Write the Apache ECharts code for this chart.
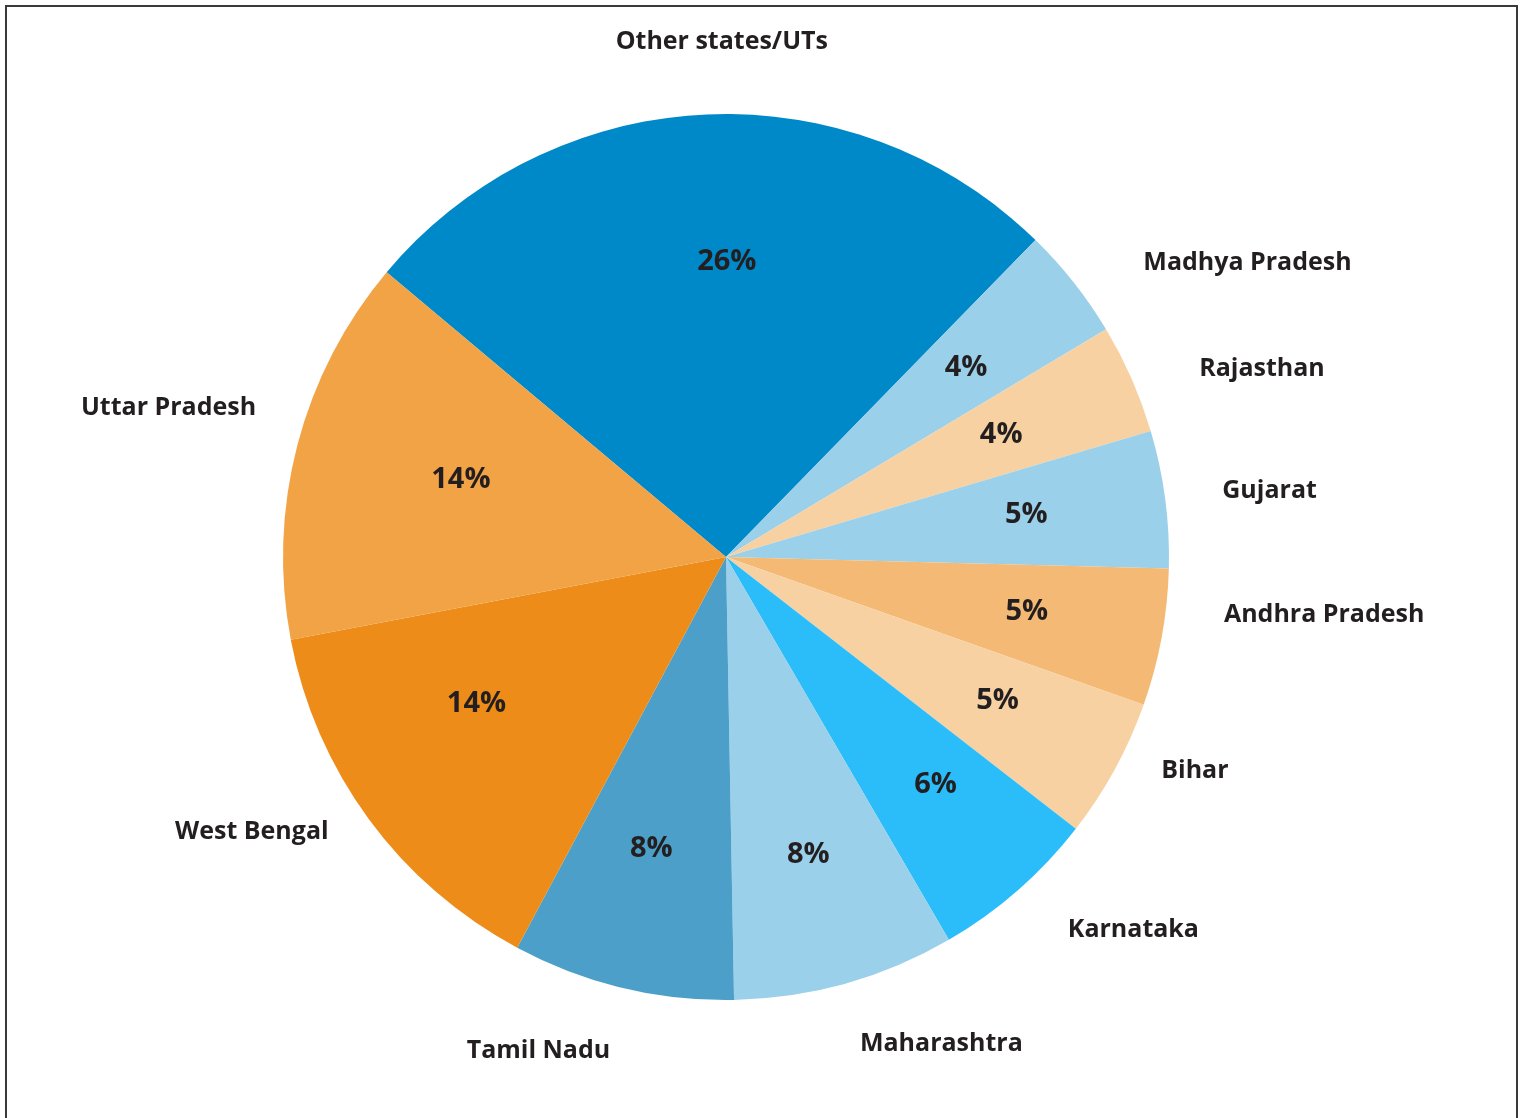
<!DOCTYPE html>
<html>
<head>
<meta charset="utf-8">
<script src="https://cdn.jsdelivr.net/npm/echarts@6/dist/echarts.min.js"></script>
<style>
  html, body { margin: 0; padding: 0; background: #ffffff; }
  #chart { width: 1526px; height: 1118px; }
</style>
</head>
<body>
<div id="chart"></div>
<script>
// Share of total, by state (per cent)
const states = ['Other states/UTs', 'Madhya Pradesh', 'Rajasthan', 'Gujarat', 'Andhra Pradesh',
  'Bihar', 'Karnataka', 'Maharashtra', 'Tamil Nadu', 'West Bengal', 'Uttar Pradesh'];
const shares = [26.2, 4.1, 4.0, 5.0, 5.0, 5.1, 6.1, 8.1, 8.1, 14.2, 14.1];
const sliceColors = ['#0089C9', '#9BD0EA', '#F8D1A2', '#9BD0EA', '#F4BA75',
  '#F8D1A2', '#2BBDFA', '#9BD0EA', '#4C9FC8', '#EE8C19', '#F1A346'];

// Pie geometry (px)
const CX = 726, CY = 557, R = 443;
const START = 140;            // degrees, counter-clockwise from 3 o'clock
const NAME_GAP = 60;          // distance of name labels beyond the rim
const PCT_R = 306;            // radius at which the percentages sit
// small per-label adjustments [dx, dy]
const nameNudge = [[26, 0], [45, 25], [18, 19], [-2, 1], [5, -36], [-2, -33],
  [33, -15], [58, -10], [-53, -7], [-7, -30], [14, -19]];
const pctNudge = [[16, 10], [0, 0], [-5, 1], [-3, -2], [0, -1], [3, -3],
  [8, -3], [0, 3], [-3, -6], [-3, -35], [31, 0]];

const total = shares.reduce((s, v) => s + v, 0);
function midAngle(i) {
  // radians, clockwise from 12 o'clock
  let before = 0;
  for (let k = 0; k < i; k++) before += shares[k];
  const startFromTop = 90 - START;
  const deg = startFromTop + (before + shares[i] / 2) / total * 360;
  return deg * Math.PI / 180;
}

const textColor = '#231F20';
const font = '"Open Sans", Lato, sans-serif';

const pieData = states.map((n, i) => ({ name: n, value: shares[i], itemStyle: { color: sliceColors[i] } }));

const chart = echarts.init(document.getElementById('chart'));
chart.setOption({
  backgroundColor: '#ffffff',
  animation: false,
  graphic: [{
    type: 'rect',
    shape: { x: 6, y: 6, width: 1511, height: 1200 },
    style: { fill: 'none', stroke: '#3a3a3a', lineWidth: 2 },
    silent: true
  }],
  series: [
    {
      type: 'pie',
      center: [CX, CY],
      radius: R,
      startAngle: START,
      clockwise: true,
      avoidLabelOverlap: false,
      silent: true,
      data: pieData,
      itemStyle: { borderWidth: 0 },
      label: {
        show: true,
        position: 'outside',
        formatter: '{b}',
        color: textColor,
        fontFamily: font,
        fontWeight: 'bold',
        fontSize: 25
      },
      labelLine: { show: false },
      labelLayout: function (p) {
        const i = p.dataIndex;
        const a = midAngle(i);
        const sx = Math.sin(a), sy = -Math.cos(a);
        const w = p.labelRect.width, h = p.labelRect.height;
        const d = R + NAME_GAP;
        return {
          x: CX + d * sx + sx * w / 2 + nameNudge[i][0],
          y: CY + d * sy + sy * h / 2 + nameNudge[i][1],
          align: 'center',
          verticalAlign: 'middle'
        };
      }
    },
    {
      // percentage labels inside the slices
      type: 'pie',
      center: [CX, CY],
      radius: R,
      startAngle: START,
      clockwise: true,
      silent: true,
      data: states.map((n, i) => ({ name: n, value: shares[i] })),
      itemStyle: { color: 'rgba(0,0,0,0)', borderWidth: 0 },
      label: {
        show: true,
        position: 'inside',
        formatter: p => Math.round(p.value) + '%',
        color: textColor,
        fontFamily: font,
        fontWeight: 'bold',
        fontSize: 29
      },
      labelLine: { show: false },
      labelLayout: function (p) {
        const i = p.dataIndex;
        const a = midAngle(i);
        return {
          x: CX + PCT_R * Math.sin(a) + pctNudge[i][0],
          y: CY - PCT_R * Math.cos(a) + pctNudge[i][1],
          align: 'center',
          verticalAlign: 'middle'
        };
      },
      emphasis: { disabled: true }
    }
  ]
});
</script>
</body>
</html>
